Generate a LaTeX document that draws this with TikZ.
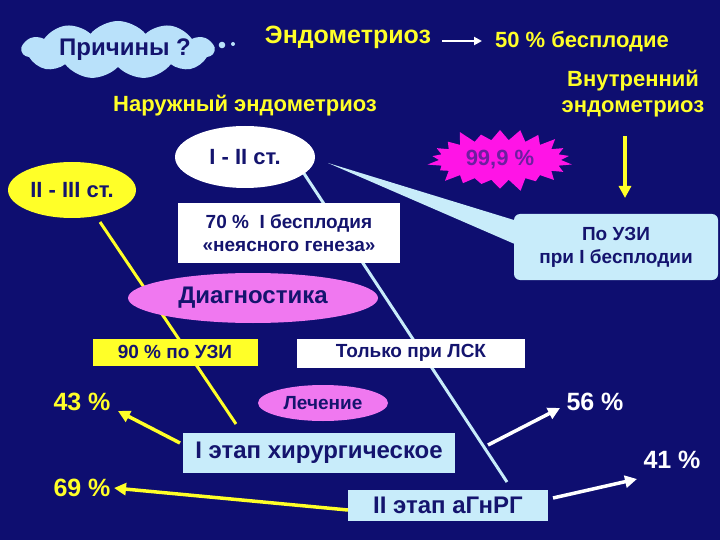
\documentclass[tikz,border=0pt]{standalone}
\usepackage{fontspec}
\setmainfont{Liberation Sans}
\usetikzlibrary{shapes.symbols,shapes.geometric,arrows.meta}
\definecolor{bg}{RGB}{14,14,112}
\definecolor{ylw}{RGB}{255,255,40}
\definecolor{lblue}{RGB}{200,236,250}
\definecolor{cloudc}{RGB}{185,225,250}
\definecolor{navy}{RGB}{20,20,110}
\definecolor{pinkc}{RGB}{240,120,240}
\definecolor{mag}{RGB}{255,20,230}
\definecolor{purp}{RGB}{110,30,160}
\newcommand{\fs}[1]{\fontsize{#1}{#1}\selectfont}
\begin{document}
\begin{tikzpicture}[x=1pt,y=-1pt,
  ytxt/.style={text=ylw,font=\bfseries\fs{25}},
  wtxt/.style={text=white,font=\bfseries\fs{25}},
  box/.style={draw=none,inner sep=0pt,font=\bfseries\fs{19},text=navy,align=center},
  yarr/.style={draw=ylw,line width=3.5pt,-{Triangle[length=12pt,width=12pt]}},
  warr/.style={draw=white,line width=3.5pt,-{Triangle[length=12pt,width=12pt]}}]
\fill[bg] (0,0) rectangle (720,540);
\useasboundingbox (0,0) rectangle (720,540);
% cloud
\node[cloud,cloud puffs=11,cloud puff arc=100,aspect=3.4,fill=cloudc,minimum width=192pt,minimum height=58pt,inner sep=0pt] (cl) at (118,50) {};
\node[text=navy,font=\bfseries\fs{24}] (clt) at (125,50) {Причины ?};
\fill[cloudc] (208,47) circle (5);
\fill[cloudc] (222,45) circle (3.3);
\fill[cloudc] (233,44) circle (2);
\node[ytxt] (endo) at (348,37) {Эндометриоз};
\node[text=ylw,font=\bfseries\fs{22}] (b50) at (582,42) {50 \% бесплодие};
\coordinate (e1) at (442,41);
\draw[white,line width=2pt,-{Triangle[length=8pt,width=8pt]}] (e1) -- (482,41);
\node[text=ylw,font=\bfseries\fs{22},align=center] (vn) at (633,94) {Внутренний\\[4pt]эндометриоз};
\node[text=ylw,font=\bfseries\fs{22}] (nar) at (245,106) {Наружный эндометриоз};
% lines behind
\coordinate (l1a) at (303,172); \coordinate (l1b) at (507,482);
\draw[lblue,line width=3pt] (l1a) -- (l1b);
\coordinate (l2a) at (100,222); \coordinate (l2b) at (236,424);
\draw[ylw,line width=3pt] (l2a) -- (l2b);
% callout wedge
\fill[lblue] (328,163) -- (540,228) -- (540,255) -- cycle;
\node[ellipse,fill=white,minimum width=140pt,minimum height=62pt,box,font=\bfseries\fs{22}] (e12) at (245,157) {I - II ст.};
\node[ellipse,fill=ylw,minimum width=128pt,minimum height=56pt,box,font=\bfseries\fs{22}] (e23) at (72,190) {II - III ст.};
\node[starburst,starburst points=22,starburst point height=14pt,fill=mag,minimum width=150pt,minimum height=68pt,text=purp,font=\bfseries\fs{22}] (sb) at (500,160) {99,9 \%};
\draw[yarr] (625,136) -- (625,198);
\node[box,fill=white,minimum width=222pt,minimum height=60pt] (b70) at (289,233) {70 \%\ \ I бесплодия\\[4pt]«неясного генеза»};
\node[box,fill=lblue,rounded corners=6pt,minimum width=204pt,minimum height=66pt] (uzi) at (616,247) {По УЗИ\\[4pt]при I бесплодии};
\node[ellipse,fill=pinkc,minimum width=250pt,minimum height=50pt,box,font=\bfseries\fs{24}] (diag) at (253,298) {Диагностика};
\node[box,fill=ylw,minimum width=165pt,minimum height=27pt] (u90) at (175,352) {90 \% по УЗИ};
\node[box,fill=white,minimum width=228pt,minimum height=29pt] (lsk) at (411,353) {Только при ЛСК};
\node[ellipse,fill=pinkc,minimum width=130pt,minimum height=36pt,box] (lech) at (323,403) {Лечение};
\node[box,fill=lblue,minimum width=272pt,minimum height=40pt,font=\bfseries\fs{24}] (st1) at (319,453) {I этап хирургическое};
\node[box,fill=lblue,minimum width=200pt,minimum height=31pt,font=\bfseries\fs{24}] (st2) at (448,505) {II этап аГнРГ};
\node[ytxt] (p43) at (82,402) {43 \%};
\node[ytxt] (p69) at (82,488) {69 \%};
\node[wtxt] (p56) at (595,402) {56 \%};
\node[wtxt] (p41) at (672,460) {41 \%};
\coordinate (s1w) at (180,443);
\draw[yarr] (s1w) -- (118,411);
\coordinate (s2w) at (348,510);
\draw[yarr] (s2w) -- (p69.east);
\coordinate (s1e) at (488,445);
\draw[warr] (s1e) -- (560,408);
\coordinate (s2e) at (553,498);
\draw[warr] (s2e) -- (637,479);
\end{tikzpicture}
\end{document}
